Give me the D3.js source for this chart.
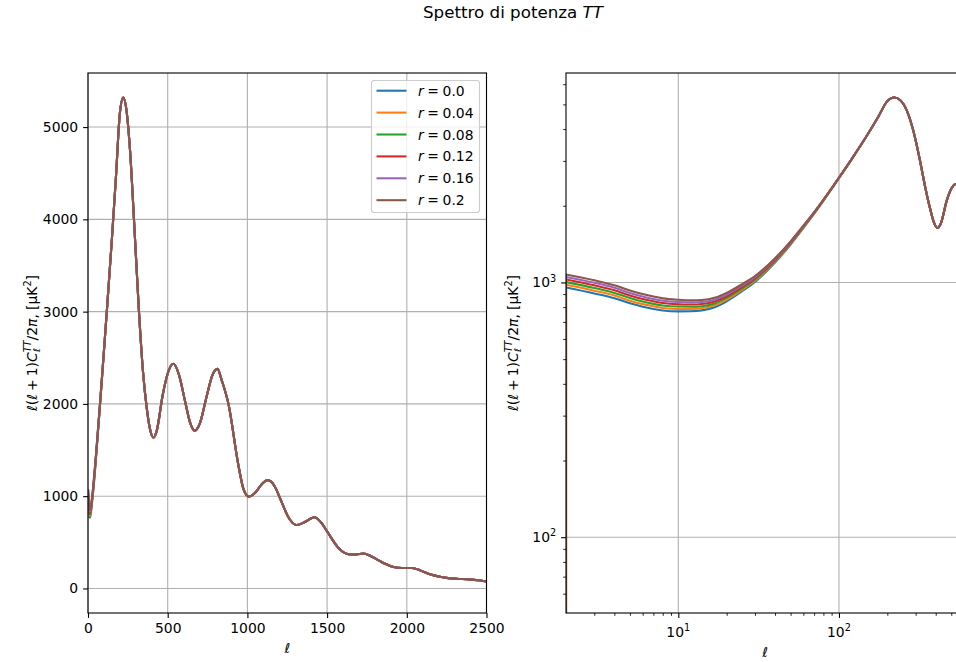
<!DOCTYPE html>
<html>
<head>
<meta charset="utf-8">
<script src="https://cdn.jsdelivr.net/npm/d3@7"></script>
<style>
  body { margin: 0; background: #fff; }
  svg { display: block; font-family: "DejaVu Sans", sans-serif; }
</style>
</head>
<body>
<svg id="fig" width="956" height="662"></svg>
<script>
// Tensor-to-scalar ratios and their line colours
const rValues = [0.0, 0.04, 0.08, 0.12, 0.16, 0.2];
const seriesColors = ["#1f77b4", "#ff7f0e", "#2ca02c", "#d62728", "#9467bd", "#8c564b"];

// Low multipoles, where the tensor part separates the curves (D_ell in muK^2)
const lowEll = [0, 1, 2, 3, 4, 5, 6, 7, 8, 10, 12, 14, 17, 20, 25, 30, 40, 50, 60, 75, 100];
const lowR000 = [0, 0, 955, 905, 867, 828, 803, 787, 776, 770, 771, 777, 801, 843, 924, 1004, 1197, 1409, 1635, 1976, 2570];
const lowR004 = [0, 0, 979, 928, 889, 848, 822, 806, 794, 787, 787, 792, 815, 856, 936, 1015, 1207, 1417, 1642, 1981, 2572];
const lowR008 = [0, 0, 1003, 951, 910, 869, 842, 824, 812, 804, 803, 807, 829, 870, 948, 1026, 1216, 1425, 1649, 1986, 2574];
const lowR012 = [0, 0, 1027, 974, 932, 889, 861, 843, 830, 821, 819, 823, 844, 883, 961, 1038, 1226, 1434, 1656, 1990, 2576];
const lowR016 = [0, 0, 1051, 997, 953, 910, 881, 861, 848, 838, 835, 838, 858, 897, 973, 1049, 1235, 1442, 1663, 1995, 2578];
const lowR020 = [0, 0, 1075, 1020, 975, 930, 900, 880, 866, 855, 851, 853, 872, 910, 985, 1060, 1245, 1450, 1670, 2000, 2580];
const lowSeries = [lowR000, lowR004, lowR008, lowR012, lowR016, lowR020];

// Higher multipoles: acoustic peaks, identical for every r
const highEll = [120, 150, 175, 200, 221, 240, 264, 290, 319, 345, 369, 390, 410, 430, 469, 500, 535, 570, 610, 640,
  670, 700, 740, 780, 812, 840, 881, 944, 975, 1010, 1050, 1090, 1127, 1170, 1208, 1260, 1308, 1360, 1421, 1460,
  1500, 1573, 1635, 1680, 1729, 1770, 1812, 1860, 1917, 1970, 2031, 2070, 2104, 2150, 2208, 2260, 2312, 2396, 2450, 2500];
const highD = [3050, 3790, 4450, 5150, 5320, 5200, 4740, 3950, 3020, 2350, 1950, 1720, 1635, 1700, 2100, 2330, 2435, 2320, 2020, 1800,
  1710, 1780, 2050, 2310, 2380, 2250, 2000, 1330, 1080, 995, 1040, 1130, 1174, 1110, 964, 764, 687, 720, 772, 720,
  618, 436, 371, 368, 378, 355, 316, 270, 233, 222, 222, 205, 182, 152, 127, 112, 105, 98, 88, 76];

// Axis ticks
const linXTicks = [0, 500, 1000, 1500, 2000, 2500];
const linYTicks = [0, 1000, 2000, 3000, 4000, 5000];
const logXTicks = [10, 100];
const logYTicks = [100, 1000];

const FS = 13.9;          // tick / label font size
const TITLE_FS = 16.7;
const LW = 2.08;          // data line width
const GRID = "#b0b0b0";

const svg = d3.select("#fig");

// Renders a run of math-like pieces (italics, sub/superscripts) left to right.
function mathText(parent, pieces, size) {
  const g = parent.append("g");
  let x = 0, prevStart = 0, prevEnd = 0;
  pieces.forEach(p => {
    const fs = size * (p.s || 1);
    const start = (p.stack ? prevStart : x) + (p.dx || 0) * size;
    const t = g.append("text")
      .attr("x", start).attr("y", (p.dy || 0) * size)
      .attr("font-size", fs)
      .attr("font-family", "DejaVu Sans")
      .attr("text-anchor", "start")
      .attr("font-style", p.it ? "italic" : "normal")
      .attr("fill", "#000")
      .text(p.t);
    const end = start + t.node().getComputedTextLength();
    x = p.stack ? Math.max(prevEnd, end) : end;
    prevStart = start; prevEnd = x;
  });
  return { g, width: x };
}

const yLabelPieces = [
  { t: "\u2113", it: true }, { t: "(" }, { t: "\u2113", it: true },
  { t: "+", dx: 0.22 }, { t: "1)", dx: 0.22 },
  { t: "C", it: true },
  { t: "\u2113", it: true, s: 0.7, dy: 0.22 },
  { t: "TT", it: true, s: 0.7, dy: -0.42, stack: true },
  { t: "/2" }, { t: "\u03c0", it: true }, { t: "," },
  { t: "[", dx: 0.3 }, { t: "\u03bcK" }, { t: "2", s: 0.7, dy: -0.42 }, { t: "]" }
];

function powLabel(parent, d) {
  return mathText(parent, [{ t: "10" }, { t: String(Math.round(Math.log10(d))), s: 0.7, dy: -0.42 }], FS);
}

// ---------- title ----------
{
  const tt = mathText(svg, [{ t: "Spettro di potenza" }, { t: "TT", it: true, dx: 0.32 }], TITLE_FS);
  tt.g.attr("transform", `translate(${513 - tt.width / 2},18)`);
}

// ---------- left panel: linear axes ----------
const L = { x0: 88, x1: 486.5, y0: 73, y1: 613 };
const allValues = lowSeries.flat().concat(highD);
const yMax = d3.max(allValues), yMin = d3.min(allValues);
const yPad = 0.05 * (yMax - yMin);
const xL = d3.scaleLinear().domain([0, 2500]).range([L.x0, L.x1]);
const yL = d3.scaleLinear().domain([yMin - yPad, yMax + yPad]).range([L.y1, L.y0]);

// ---------- right panel: log axes ----------
const R = { x0: 566, x1: 964, y0: 73, y1: 613 };
const xR = d3.scaleLog().domain([2, 600]).range([R.x0, R.x1]).clamp(true);
const yR = d3.scaleLog().domain([50.4, 6640]).range([R.y1, R.y0]).clamp(true);

const defs = svg.append("defs");
[["clipL", L], ["clipR", R]].forEach(([id, b]) => {
  defs.append("clipPath").attr("id", id).append("rect")
    .attr("x", b.x0).attr("y", b.y0).attr("width", b.x1 - b.x0).attr("height", b.y1 - b.y0);
});

function grid(box, xs, ys, xt, yt) {
  const g = svg.append("g").attr("stroke", GRID).attr("stroke-width", 1.1);
  xt.forEach(v => g.append("line").attr("x1", xs(v)).attr("x2", xs(v)).attr("y1", box.y0).attr("y2", box.y1));
  yt.forEach(v => g.append("line").attr("y1", ys(v)).attr("y2", ys(v)).attr("x1", box.x0).attr("x2", box.x1));
}
grid(L, xL, yL, linXTicks, linYTicks);
grid(R, xR, yR, logXTicks, logYTicks);

// Curves
const seriesPoints = lowSeries.map(vals =>
  lowEll.map((l, j) => [l, vals[j]]).concat(highEll.map((l, j) => [l, highD[j]])));

// On the log panel the zero monopole/dipole drop straight to the bottom edge.
function curvePath(pts, xs, ys, withDrop) {
  const head = pts.filter(p => p[0] >= 1 && p[0] <= 2);
  const tail = pts.filter(p => p[0] >= 2);
  const lin = d3.line().x(p => xs(p[0])).y(p => ys(p[1]));
  const mono = d3.line().x(p => xs(p[0])).y(p => ys(p[1])).curve(d3.curveMonotoneX);
  return (withDrop ? lin(head) : "") + mono(tail);
}

[["clipL", xL, yL, false], ["clipR", xR, yR, true]].forEach(([clip, xs, ys, drop]) => {
  const g = svg.append("g").attr("clip-path", `url(#${clip})`);
  seriesPoints.forEach((pts, i) => {
    g.append("path").attr("d", curvePath(pts, xs, ys, drop))
      .attr("fill", "none").attr("stroke", seriesColors[i])
      .attr("stroke-width", LW).attr("stroke-linejoin", "round");
  });
});

// Axes (ticks + labels)
function styleAxis(sel) {
  sel.select(".domain").remove();
  sel.selectAll(".tick line").attr("stroke", "#000").attr("stroke-width", 1.1);
  sel.selectAll(".tick text").attr("font-size", FS).attr("font-family", "DejaVu Sans").attr("fill", "#000");
}

svg.append("g").attr("transform", `translate(0,${L.y1})`)
  .call(d3.axisBottom(xL).tickValues(linXTicks).tickSize(4.9).tickPadding(4.9).tickFormat(d3.format("d")))
  .call(styleAxis);
svg.append("g").attr("transform", `translate(${L.x0},0)`)
  .call(d3.axisLeft(yL).tickValues(linYTicks).tickSize(4.9).tickPadding(4.9).tickFormat(d3.format("d")))
  .call(styleAxis);

// log axes: majors, minors and power-of-ten labels
const logXMinor = [3, 4, 5, 6, 7, 8, 9, 20, 30, 40, 50, 60, 70, 80, 90, 200, 300, 400, 500, 600];
const logYMinor = [60, 70, 80, 90, 200, 300, 400, 500, 600, 700, 800, 900, 2000, 3000, 4000, 5000, 6000];

const gxR = svg.append("g").attr("transform", `translate(0,${R.y1})`);
gxR.call(d3.axisBottom(xR).tickValues(logXTicks).tickSize(4.9).tickFormat("")).call(styleAxis);
gxR.append("g").call(d3.axisBottom(xR).tickValues(logXMinor).tickSize(2.8).tickFormat(""))
  .call(s => { s.select(".domain").remove(); s.selectAll(".tick line").attr("stroke", "#000").attr("stroke-width", 0.85); });
logXTicks.forEach(v => {
  const m = powLabel(gxR, v);
  m.g.attr("transform", `translate(${xR(v) - m.width / 2},${24})`);
});

const gyR = svg.append("g").attr("transform", `translate(${R.x0},0)`);
gyR.call(d3.axisLeft(yR).tickValues(logYTicks).tickSize(4.9).tickFormat("")).call(styleAxis);
gyR.append("g").call(d3.axisLeft(yR).tickValues(logYMinor).tickSize(2.8).tickFormat(""))
  .call(s => { s.select(".domain").remove(); s.selectAll(".tick line").attr("stroke", "#000").attr("stroke-width", 0.85); });
logYTicks.forEach(v => {
  const m = powLabel(gyR, v);
  m.g.attr("transform", `translate(${-9.8 - m.width},${yR(v) + 5})`);
});

// Frames
[L, R].forEach(b => {
  svg.append("rect").attr("x", b.x0).attr("y", b.y0).attr("width", b.x1 - b.x0).attr("height", b.y1 - b.y0)
    .attr("fill", "none").attr("stroke", "#000").attr("stroke-width", 1.1);
});

// Axis labels
function xLabel(cx, y) {
  const m = mathText(svg, [{ t: "\u2113", it: true }], FS);
  m.g.attr("transform", `translate(${cx - m.width / 2},${y})`);
}
xLabel((L.x0 + L.x1) / 2, 653);
xLabel((R.x0 + R.x1) / 2, 657);

function yLabel(x, cy) {
  const m = mathText(svg, yLabelPieces, FS);
  m.g.attr("transform", `translate(${x},${cy}) rotate(-90) translate(${-m.width / 2},0)`);
}
yLabel(37, (L.y0 + L.y1) / 2);
yLabel(518, (R.y0 + R.y1) / 2);

// Legend
{
  const right = L.x1 - 7, top = L.y0 + 7.5;
  const box = { x0: right - 108, y0: top, w: 108, h: 132 };
  const lg = svg.append("g");
  lg.append("rect").attr("x", box.x0).attr("y", box.y0).attr("width", box.w).attr("height", box.h)
    .attr("rx", 2.8).attr("fill", "#fff").attr("fill-opacity", 0.8)
    .attr("stroke", "#cccccc").attr("stroke-width", 1.1);
  rValues.forEach((r, i) => {
    const cy = box.y0 + 10.2 + i * 21.9;
    lg.append("line").attr("x1", box.x0 + 5).attr("x2", box.x0 + 35).attr("y1", cy).attr("y2", cy)
      .attr("stroke", seriesColors[i]).attr("stroke-width", LW);
    const label = r === 0 ? "0.0" : String(r);
    const m = mathText(lg, [{ t: "r", it: true }, { t: "=", dx: 0.26 }, { t: label, dx: 0.26 }], FS);
    m.g.attr("transform", `translate(${box.x0 + 46.5},${cy + 5})`);
  });
}
</script>
</body>
</html>
